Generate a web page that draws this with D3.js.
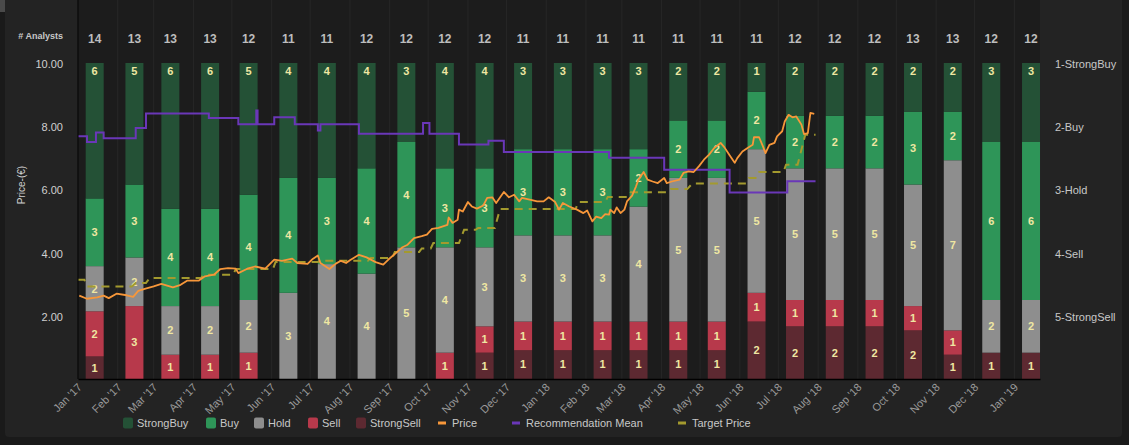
<!DOCTYPE html>
<html>
<head>
<meta charset="utf-8">
<script src="https://cdn.jsdelivr.net/npm/d3@7"></script>
<style>
  html, body { margin: 0; padding: 0; background: #1a1a1a; }
  svg { display: block; font-family: "Liberation Sans", Arial, sans-serif; }
</style>
</head>
<body>
<div id="chart"></div>
<script>
// monthly recommendation counts
var months = ["2017-01","2017-02","2017-03","2017-04","2017-05","2017-06","2017-07","2017-08","2017-09","2017-10","2017-11","2017-12",
  "2018-01","2018-02","2018-03","2018-04","2018-05","2018-06","2018-07","2018-08","2018-09","2018-10","2018-11","2018-12","2019-01"];
var analysts   = [14,13,13,13,12,11,11,12,12,12,12,11,11,11,11,11,11,11,12,12,12,13,13,12,12];
var strongBuy  = [6,5,6,6,5,4,4,4,3,4,4,3,3,3,3,2,2,1,2,2,2,2,2,3,3];
var buy        = [3,3,4,4,4,4,3,4,4,3,3,3,3,3,2,2,2,2,2,2,2,3,2,6,6];
var hold       = [2,2,2,2,2,3,4,4,5,4,3,3,3,3,4,5,5,5,5,5,5,5,7,2,2];
var sell       = [2,3,1,1,1,0,0,0,0,1,1,1,1,1,1,1,1,1,1,1,1,1,1,0,0];
var strongSell = [1,0,0,0,0,0,0,0,0,0,1,1,1,1,1,1,1,2,2,2,2,2,1,1,1];

// price (€)
var priceSeries = [
  ["2017-01-02",2.64],["2017-01-08",2.54],["2017-01-16",2.58],["2017-01-21",2.64],["2017-01-25",2.56],
  ["2017-01-31",2.70],["2017-02-08",2.65],["2017-02-13",2.60],["2017-02-17",2.79],["2017-02-22",2.85],
  ["2017-03-01",2.93],["2017-03-07",3.01],["2017-03-16",2.90],["2017-03-22",2.98],["2017-03-27",3.11],
  ["2017-04-05",3.11],["2017-04-10",3.25],["2017-04-17",3.30],["2017-04-22",3.48],["2017-04-28",3.51],
  ["2017-05-04",3.49],["2017-05-06",3.35],["2017-05-13",3.49],["2017-05-19",3.56],["2017-05-27",3.49],
  ["2017-06-03",3.78],["2017-06-09",3.74],["2017-06-17",3.81],["2017-06-21",3.67],["2017-06-29",3.64],
  ["2017-07-03",3.80],["2017-07-07",3.91],["2017-07-09",3.67],["2017-07-16",3.48],["2017-07-21",3.65],
  ["2017-07-25",3.74],["2017-07-29",3.67],["2017-08-01",3.76],["2017-08-08",3.93],["2017-08-14",3.85],
  ["2017-08-21",3.70],["2017-08-27",3.62],["2017-08-31",3.78],["2017-09-06",3.99],["2017-09-11",4.17],
  ["2017-09-15",4.25],["2017-09-20",4.46],["2017-09-26",4.52],["2017-09-30",4.57],["2017-10-04",4.75],
  ["2017-10-09",4.78],["2017-10-16",4.88],["2017-10-17",5.11],["2017-10-20",4.94],["2017-10-24",5.04],
  ["2017-10-25",5.36],["2017-10-28",5.30],["2017-11-01",5.60],["2017-11-04",5.46],["2017-11-08",5.39],
  ["2017-11-13",5.49],["2017-11-16",5.73],["2017-11-20",5.75],["2017-11-23",5.57],["2017-11-29",5.92],
  ["2017-12-03",5.75],["2017-12-07",5.83],["2017-12-11",5.62],["2017-12-13",5.73],["2017-12-20",5.67],
  ["2017-12-25",5.62],["2017-12-30",5.62],["2018-01-03",5.75],["2018-01-08",5.60],["2018-01-11",5.36],
  ["2018-01-14",5.57],["2018-01-19",5.46],["2018-01-25",5.36],["2018-01-30",5.25],["2018-02-02",5.33],
  ["2018-02-06",4.99],["2018-02-09",5.14],["2018-02-13",5.09],["2018-02-16",5.22],["2018-02-19",5.20],
  ["2018-02-20",5.36],["2018-02-23",5.25],["2018-02-25",5.43],["2018-02-28",5.25],["2018-03-03",5.36],
  ["2018-03-05",5.62],["2018-03-09",5.80],["2018-03-12",6.09],["2018-03-14",6.31],["2018-03-18",6.55],
  ["2018-03-21",6.31],["2018-03-25",6.25],["2018-03-29",6.20],["2018-04-03",6.36],["2018-04-05",6.20],
  ["2018-04-09",6.25],["2018-04-15",6.31],["2018-04-18",6.52],["2018-04-22",6.57],["2018-04-26",6.55],
  ["2018-04-30",6.73],["2018-05-04",6.94],["2018-05-08",7.10],["2018-05-12",7.31],["2018-05-17",7.47],
  ["2018-05-20",7.33],["2018-05-24",7.08],["2018-05-28",6.84],["2018-05-30",6.99],["2018-06-03",7.20],
  ["2018-06-07",7.31],["2018-06-11",7.41],["2018-06-12",7.65],["2018-06-16",7.65],["2018-06-19",7.36],
  ["2018-06-21",7.15],["2018-06-24",7.41],["2018-06-28",7.47],["2018-06-30",7.68],["2018-07-04",7.84],
  ["2018-07-06",8.15],["2018-07-09",8.36],["2018-07-12",8.28],["2018-07-15",8.31],["2018-07-19",8.05],
  ["2018-07-21",7.75],["2018-07-24",7.78],["2018-07-26",8.42],["2018-07-29",8.39]
];

// recommendation mean (1 = strong buy .. 5 = strong sell), step changes
var recMeanSeries = [
  ["2017-01-01",2.16],["2017-01-08",2.25],["2017-01-15",2.10],["2017-01-21",2.19],["2017-02-15",2.03],
  ["2017-02-23",1.80],["2017-04-13",1.87],["2017-05-06",1.97],["2017-05-20",1.75],["2017-05-21",1.97],
  ["2017-06-03",1.86],["2017-06-19",1.97],["2017-07-07",2.07],["2017-07-09",1.97],["2017-08-08",2.12],
  ["2017-09-27",1.95],["2017-10-02",2.12],["2017-10-25",2.29],["2017-11-17",2.23],["2017-11-29",2.41],
  ["2018-02-19",2.50],["2018-04-03",2.69],["2018-05-24",3.05],["2018-07-08",2.87],["2018-07-30",2.87]
];

// mean target price (€)
var targetSeries = [
  ["2017-01-01",3.14],["2017-01-06",3.14],["2017-01-08",2.93],["2017-02-12",2.93],["2017-02-15",3.04],
  ["2017-02-23",3.04],["2017-02-26",3.20],["2017-04-07",3.20],["2017-04-09",3.30],["2017-05-02",3.30],
  ["2017-05-04",3.48],["2017-06-02",3.48],["2017-06-04",3.70],["2017-07-07",3.70],["2017-07-09",3.74],
  ["2017-08-15",3.74],["2017-08-17",3.83],["2017-09-03",3.83],["2017-09-05",4.02],["2017-09-24",4.02],
  ["2017-09-26",4.13],["2017-10-03",4.13],["2017-10-05",4.30],["2017-10-25",4.30],["2017-10-29",4.72],
  ["2017-11-07",4.72],["2017-11-09",4.78],["2017-11-22",4.78],["2017-11-26",5.38],["2018-01-24",5.38],
  ["2018-01-26",5.60],["2018-02-16",5.60],["2018-02-18",5.76],["2018-03-06",5.76],["2018-03-08",5.91],
  ["2018-04-06",5.91],["2018-04-08",6.01],["2018-04-21",6.01],["2018-04-25",6.19],["2018-06-06",6.19],
  ["2018-06-08",6.36],["2018-06-14",6.36],["2018-06-16",6.55],["2018-07-05",6.55],["2018-07-07",6.78],
  ["2018-07-16",6.78],["2018-07-22",7.73],["2018-07-30",7.73]
];

var priceTicks = [2, 4, 6, 8, 10];
var ratingTicks = ["1-StrongBuy", "2-Buy", "3-Hold", "4-Sell", "5-StrongSell"];

var keys = ["strongSell", "sell", "hold", "buy", "strongBuy"];
var color = d3.scaleOrdinal()
  .domain(["strongBuy", "buy", "hold", "sell", "strongSell"])
  .range(["#245136", "#2e9558", "#8e8e8e", "#b7394b", "#5d2931"]);

var width = 1129, height = 445,
  margin = { top: 0, right: 89, bottom: 66, left: 78 };
var parse = d3.timeParse("%Y-%m-%d"), parseMonth = d3.timeParse("%Y-%m");

var svg = d3.select("#chart").append("svg")
  .attr("width", width).attr("height", height);

// card + plot background
svg.append("rect").attr("x", 5).attr("y", -6).attr("width", 1117).attr("height", 443)
  .attr("rx", 4).attr("fill", "#232323");
svg.append("rect").attr("x", 0).attr("y", 0).attr("width", 5).attr("height", 12).attr("fill", "#4a4a4a");
svg.append("rect").attr("x", margin.left).attr("y", 0)
  .attr("width", width - margin.left - margin.right).attr("height", height - margin.bottom)
  .attr("fill", "#1c1c1c");

var x = d3.scaleTime()
  .domain([new Date(2017, 0, 1), new Date(2019, 0, 21)])
  .range([margin.left, width - margin.right]);
var y = d3.scaleLinear().domain([0, 10]).range([height - margin.bottom, 63]);
var yShare = d3.scaleLinear().domain([0, 1]).range([height - margin.bottom, 63]);
var yRating = d3.scaleLinear().domain([1, 6]).range([63, height - margin.bottom]);

var monthDates = months.map(function (m) { return parseMonth(m); });

// faint month grid
svg.append("g").selectAll("line")
  .data(monthDates)
  .join("line")
  .attr("x1", function (d) { return x(d); }).attr("x2", function (d) { return x(d); })
  .attr("y1", 0).attr("y2", height - margin.bottom)
  .attr("stroke", "#272727").attr("stroke-width", 1);

var rows = months.map(function (m, i) {
  return {
    date: d3.timeDay.offset(monthDates[i], 13),
    strongBuy: strongBuy[i], buy: buy[i], hold: hold[i], sell: sell[i], strongSell: strongSell[i],
    total: analysts[i]
  };
});

var stacked = d3.stack().keys(keys).offset(d3.stackOffsetExpand)(rows);
var barW = 18;

var layers = svg.append("g").selectAll("g")
  .data(stacked)
  .join("g")
  .attr("fill", function (d) { return color(d.key); });

layers.selectAll("rect")
  .data(function (d) { return d; })
  .join("rect")
  .attr("x", function (d) { return x(d.data.date) - barW / 2; })
  .attr("y", function (d) { return yShare(d[1]); })
  .attr("width", barW)
  .attr("height", function (d) { return yShare(d[0]) - yShare(d[1]); });

// segment counts
svg.append("g").selectAll("g")
  .data(stacked)
  .join("g")
  .each(function (layer) {
    d3.select(this).selectAll("text")
      .data(layer.filter(function (d) { return d.data[layer.key] > 0; }))
      .join("text")
      .attr("x", function (d) { return x(d.data.date); })
      .attr("y", function (d) {
        return layer.key === "strongBuy" ? yShare(d[1]) + 8 : (yShare(d[0]) + yShare(d[1])) / 2;
      })
      .attr("dy", "0.35em")
      .attr("text-anchor", "middle")
      .attr("font-size", 11).attr("font-weight", "bold")
      .attr("fill", "#efe7a2")
      .text(function (d) { return d.data[layer.key]; });
  });

// number of analysts row
svg.append("text").attr("x", 63).attr("y", 36).attr("dy", "0.35em")
  .attr("text-anchor", "end").attr("font-size", 9).attr("font-weight", "bold")
  .attr("fill", "#c8c8c8").text("# Analysts");
svg.append("g").selectAll("text")
  .data(rows)
  .join("text")
  .attr("x", function (d) { return x(d.date); })
  .attr("y", 39).attr("dy", "0.35em")
  .attr("text-anchor", "middle").attr("font-size", 12).attr("font-weight", "bold")
  .attr("fill", "#bdbdbd")
  .text(function (d) { return d.total; });

// lines
var lineTarget = d3.line()
  .x(function (d) { return x(parse(d[0])); })
  .y(function (d) { return y(d[1]); });
var linePrice = d3.line()
  .x(function (d) { return x(parse(d[0])); })
  .y(function (d) { return y(d[1]); });
var lineRec = d3.line()
  .curve(d3.curveStepAfter)
  .x(function (d) { return x(parse(d[0])); })
  .y(function (d) { return yRating(d[1]); });

svg.append("path").datum(targetSeries).attr("d", lineTarget)
  .attr("fill", "none").attr("stroke", "#a39a2e").attr("stroke-width", 2)
  .attr("stroke-dasharray", "8,6");
svg.append("path").datum(recMeanSeries).attr("d", lineRec)
  .attr("fill", "none").attr("stroke", "#6a37b8").attr("stroke-width", 2);
svg.append("path").datum(priceSeries).attr("d", linePrice)
  .attr("fill", "none").attr("stroke", "#f7973a").attr("stroke-width", 1.8)
  .attr("stroke-linejoin", "round");

// left axis
var yAxis = d3.axisLeft(y).tickValues(priceTicks).tickSize(0).tickPadding(15)
  .tickFormat(d3.format(".2f"));
var gy = svg.append("g").attr("transform", "translate(" + margin.left + ",1)").call(yAxis);
gy.select(".domain").remove();
gy.selectAll("text").attr("font-size", 11).attr("fill", "#d0d0d0")
  .attr("font-family", "Liberation Sans, Arial, sans-serif");
svg.append("line").attr("x1", margin.left).attr("x2", margin.left)
  .attr("y1", 0).attr("y2", height - margin.bottom).attr("stroke", "#000");

svg.append("text")
  .attr("transform", "translate(25,185) rotate(-90)")
  .attr("text-anchor", "middle").attr("font-size", 10).attr("fill", "#cfcfcf")
  .text("Price-(€)");

// right rating axis
var yRAxis = d3.axisRight(yRating).tickValues([1, 2, 3, 4, 5]).tickSize(0).tickPadding(15)
  .tickFormat(function (d, i) { return ratingTicks[i]; });
var gr = svg.append("g").attr("transform", "translate(" + (width - margin.right) + ",1)").call(yRAxis);
gr.select(".domain").remove();
gr.selectAll("text").attr("font-size", 11).attr("fill", "#c8c8c8")
  .attr("font-family", "Liberation Sans, Arial, sans-serif");

// bottom axis
var xAxis = d3.axisBottom(x).tickValues(monthDates).tickSize(0)
  .tickFormat(d3.timeFormat("%b '%y"));
var gx = svg.append("g").attr("transform", "translate(0," + (height - margin.bottom) + ")").call(xAxis);
gx.select(".domain").attr("stroke", "#000").attr("stroke-width", 1.5);
gx.selectAll("text")
  .attr("font-size", 11).attr("fill", "#9a9a9a")
  .attr("font-family", "Liberation Sans, Arial, sans-serif")
  .attr("text-anchor", "end")
  .attr("dy", null).attr("y", 0)
  .attr("transform", "translate(4,9) rotate(-45)");

// legend
var legendItems = [
  { name: "StrongBuy", kind: "box", c: color("strongBuy"), x: 123 },
  { name: "Buy", kind: "box", c: color("buy"), x: 206 },
  { name: "Hold", kind: "box", c: color("hold"), x: 254 },
  { name: "Sell", kind: "box", c: color("sell"), x: 308 },
  { name: "StrongSell", kind: "box", c: color("strongSell"), x: 356 },
  { name: "Price", kind: "dash", c: "#f7973a", x: 438 },
  { name: "Recommendation Mean", kind: "dash", c: "#6a37b8", x: 512 },
  { name: "Target Price", kind: "dash", c: "#a39a2e", x: 678 }
];
var lg = svg.append("g").selectAll("g")
  .data(legendItems)
  .join("g")
  .attr("transform", function (d) { return "translate(" + d.x + ",423)"; });
lg.filter(function (d) { return d.kind === "box"; }).append("rect")
  .attr("x", 0).attr("y", -5.5).attr("width", 10).attr("height", 11).attr("rx", 2)
  .attr("fill", function (d) { return d.c; });
lg.filter(function (d) { return d.kind === "dash"; }).append("rect")
  .attr("x", 0).attr("y", -1.5).attr("width", 8).attr("height", 3)
  .attr("fill", function (d) { return d.c; });
lg.append("text")
  .attr("x", 14)
  .attr("dy", "0.35em").attr("font-size", 11).attr("fill", "#c8c8c8")
  .text(function (d) { return d.name; });
</script>
</body>
</html>
